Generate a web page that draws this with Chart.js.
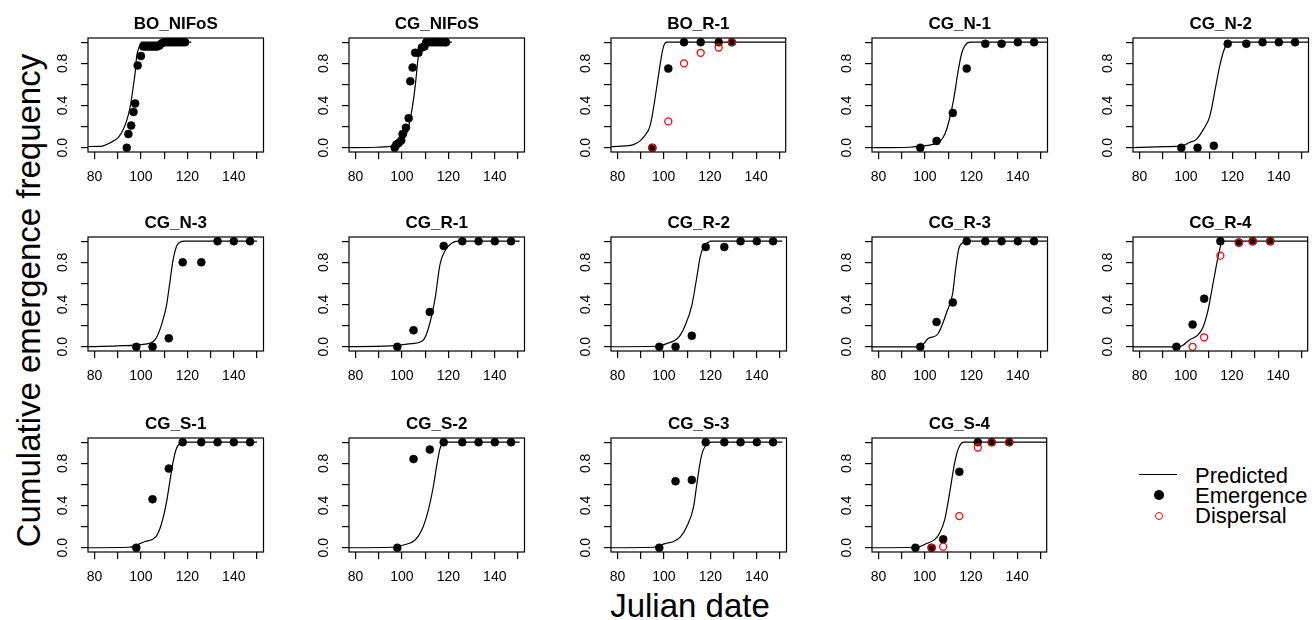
<!DOCTYPE html>
<html lang="en">
<head>
<meta charset="UTF-8" />
<title>Cumulative emergence frequency by Julian date</title>
<script src="https://cdn.jsdelivr.net/npm/chart.js"></script>
<style>
  body { margin: 0; width: 1316px; height: 620px; overflow: hidden; background: #fff; position: relative;
         font-family: 'Liberation Sans', Arial, sans-serif; color: #000; }
  .panel { position: absolute; width: 240px; height: 188px; }
  .axis-title { position: absolute; font-size: 33px; line-height: 33px; white-space: nowrap; text-align: center; }
  #xtitle { left: 540px; width: 300px; top: 589px; }
  #ytitle { left: -272px; width: 600px; top: 283.5px; transform: rotate(-90deg); }
  .lg-text { position: absolute; left: 1195px; font-size: 22px; line-height: 22px; white-space: nowrap; }
  .lg-line { position: absolute; left: 1139px; top: 474.4px; width: 38px; border-top: 1.3px solid #000; }
  .lg-dot { position: absolute; left: 1154px; top: 490px; width: 10px; height: 10px; border-radius: 50%; background: #000; }
  .lg-ring { position: absolute; left: 1155px; top: 511.7px; width: 8px; height: 8px; box-sizing: border-box;
             border-radius: 50%; border: 1.3px solid #ff0000; }
</style>
</head>
<body>
  <div class="axis-title" id="ytitle">Cumulative emergence frequency</div>
  <div class="axis-title" id="xtitle">Julian date</div>

  <div class="lg-line"></div>
  <div class="lg-dot"></div>
  <div class="lg-ring"></div>
  <div class="lg-text" style="top:464.7px">Predicted</div>
  <div class="lg-text" style="top:484.7px">Emergence</div>
  <div class="lg-text" style="top:504.7px">Dispersal</div>

<script>
// panels, left to right, top to bottom
const panelNames = ['BO_NIFoS', 'CG_NIFoS', 'BO_R-1', 'CG_N-1', 'CG_N-2',
                    'CG_N-3', 'CG_R-1', 'CG_R-2', 'CG_R-3', 'CG_R-4',
                    'CG_S-1', 'CG_S-2', 'CG_S-3', 'CG_S-4'];

const xTicks = [80, 90, 100, 110, 120, 130, 140, 150];
const xLabels = [80, 100, 120, 140];
const yTicks = [0, 0.2, 0.4, 0.6, 0.8, 1];
const yLabels = [0, 0.4, 0.8];

// observed emergence (black dots)
const emergenceX = [
  [93.9, 94.6, 95.8, 96.8, 97.5, 98.6, 100, 101, 102, 103, 104, 105, 106, 107, 108, 109, 110, 111, 112, 113, 114, 115, 116, 117, 118, 119],
  [96.9, 97.6, 98.6, 99.7, 100.3, 101.7, 102.9, 103.6, 104.6, 105.7, 107.1, 108.6, 109.7, 110.5, 111.5, 112.5, 113.5, 114.5, 115.5, 116.5, 117.5, 118.5, 119],
  [95.1, 102, 108.8, 116, 123.8, 129.5],
  [98, 105, 112, 118, 126, 133, 140, 147],
  [98, 105, 112, 118, 126, 133, 140, 147],
  [98, 105, 112, 118, 126, 133, 140, 147],
  [98, 105, 112, 118, 126, 133, 140, 147],
  [98, 105, 112, 118, 126, 133, 140, 147],
  [98, 105, 112, 118, 126, 133, 140, 147],
  [96, 103, 108, 115, 123, 129, 136.6],
  [98, 105, 112, 118, 126, 133, 140, 147],
  [98, 105, 112, 118, 126, 133, 140, 147],
  [98, 105, 112, 118, 126, 133, 140, 147],
  [96, 103, 108, 115, 123, 129, 136.6]
];
const emergenceY = [
  [0, 0.13, 0.21, 0.34, 0.42, 0.78, 0.87, 0.96, 0.96, 0.96, 0.96, 0.96, 0.96, 0.96, 0.97, 0.99, 1, 1, 1, 1, 1, 1, 1, 1, 1, 1],
  [0, 0.03, 0.045, 0.07, 0.13, 0.19, 0.28, 0.63, 0.76, 0.9, 0.9, 0.95, 0.96, 1, 1, 1, 1, 1, 1, 1, 1, 1, 1],
  [0, 0.75, 1, 1, 1, 1],
  [0, 0.065, 0.33, 0.75, 0.985, 0.985, 1, 1],
  [0, 0, 0.02, 0.985, 0.985, 1, 1, 1],
  [0, 0, 0.08, 0.8, 0.8, 1, 1, 1],
  [0, 0.156, 0.33, 0.955, 1, 1, 1, 1],
  [0, 0, 0.104, 0.945, 0.945, 1, 1, 1],
  [0, 0.235, 0.42, 1, 1, 1, 1, 1],
  [0, 0.21, 0.456, 1, 0.987, 1, 1],
  [0, 0.46, 0.75, 1, 1, 1, 1, 1],
  [0, 0.84, 0.93, 1, 1, 1, 1, 1],
  [0, 0.63, 0.643, 1, 1, 1, 1, 1],
  [0, 0, 0.08, 0.72, 1, 1, 1]
];

// observed dispersal (red rings), only some panels
const dispersalX = [null, null, [95.1, 102, 108.8, 116, 123.8, 129.5], null, null,
  null, null, null, null, [103, 108, 115, 123, 129, 136.6],
  null, null, null, [103, 108, 115, 123, 129, 136.6]];
const dispersalY = [null, null, [0, 0.25, 0.8, 0.9, 0.95, 1], null, null,
  null, null, null, null, [0, 0.09, 0.863, 0.987, 1, 1],
  null, null, null, [0, 0.01, 0.3, 0.95, 1, 1]];

// predicted curve
const predictedX = [
  [75, 82.6, 86.1, 88.5, 90.4, 92.5, 93.9, 95.4, 96.5, 97.5, 98.2, 99.2, 100.3, 121.7],
  [75, 89, 97, 98.6, 100.5, 102, 104.3, 105.7, 107.1, 108.6, 110, 121.5],
  [75, 85, 88, 90, 92, 94, 95, 96.2, 97.3, 98.4, 99.3, 100.1, 101.2, 155],
  [75, 93.5, 98, 103, 106.5, 108.7, 110.1, 112.3, 114.4, 115.9, 117.3, 119.5, 155],
  [75, 91, 98.5, 101.5, 104.5, 107.4, 110.3, 113, 114.6, 116, 117.5, 118.5, 155],
  [75, 90, 101.8, 105.3, 107, 108.9, 111, 112.4, 113.9, 115.3, 116.7, 118.8, 150],
  [75, 95, 104.3, 109.3, 112.1, 114.3, 116.4, 118.6, 121.4, 124.3, 150.7],
  [75, 97, 101.2, 106.3, 109.1, 112, 114.1, 115.6, 117, 119.2, 120, 151],
  [75, 97.9, 99.5, 101.5, 105.1, 107.3, 109.4, 111.9, 113.3, 114.6, 116.6, 118, 155],
  [75, 96, 98.5, 101.6, 105.2, 107.4, 109.5, 111, 113.1, 114.3, 115.3, 116, 155],
  [75, 95, 101.8, 106.3, 108.9, 111, 112.4, 113.9, 115.3, 116.7, 117.4, 150],
  [75, 96, 100.7, 105.7, 108.6, 111.4, 113.6, 115, 116.4, 117.9, 118.6, 150.7],
  [75, 95.5, 100.5, 104.1, 107, 109.8, 112.7, 114.1, 115.6, 117, 119.2, 120.6, 151],
  [75, 96.5, 100.8, 104.4, 106.5, 108.7, 110.8, 113, 114.4, 115.9, 117.3, 155]
];
const predictedY = [
  [0.012, 0.013, 0.04, 0.07, 0.1, 0.18, 0.26, 0.39, 0.55, 0.71, 0.87, 0.95, 1, 1],
  [0, 0.005, 0.02, 0.04, 0.08, 0.13, 0.36, 0.58, 0.87, 0.97, 1, 1],
  [0.01, 0.02, 0.04, 0.07, 0.12, 0.2, 0.3, 0.46, 0.62, 0.78, 0.9, 0.97, 1, 1],
  [0, 0.005, 0.015, 0.03, 0.06, 0.135, 0.23, 0.45, 0.74, 0.9, 0.97, 1, 1],
  [0, 0.01, 0.02, 0.05, 0.08, 0.17, 0.3, 0.6, 0.78, 0.9, 0.98, 1, 1],
  [0, 0.008, 0.025, 0.05, 0.1, 0.21, 0.39, 0.6, 0.83, 0.95, 0.99, 1, 1],
  [0, 0.008, 0.03, 0.065, 0.23, 0.46, 0.78, 0.91, 0.98, 1, 1],
  [0, 0.005, 0.03, 0.09, 0.2, 0.39, 0.65, 0.85, 0.945, 0.99, 1, 1],
  [0, 0, 0.03, 0.08, 0.11, 0.2, 0.33, 0.5, 0.75, 0.93, 0.99, 1, 1],
  [0, 0, 0.01, 0.065, 0.11, 0.18, 0.33, 0.5, 0.75, 0.88, 0.97, 1, 1],
  [0, 0.005, 0.06, 0.1, 0.23, 0.43, 0.62, 0.82, 0.94, 0.99, 1, 1],
  [0, 0.005, 0.026, 0.074, 0.17, 0.36, 0.59, 0.78, 0.94, 0.99, 1, 1],
  [0, 0.005, 0.04, 0.06, 0.1, 0.2, 0.38, 0.59, 0.81, 0.93, 0.99, 1, 1],
  [0, 0.005, 0.04, 0.08, 0.14, 0.27, 0.52, 0.81, 0.93, 0.99, 1, 1]
];

// plot box positions (left edge per column, top edge per row)
const colLeft = [88, 349, 611, 872, 1133];
const rowTop = [38, 237, 438];

Chart.defaults.font.family = "'Liberation Sans', Arial, sans-serif";
Chart.defaults.color = '#000';

const pts = (xs, ys) => xs.map((x, k) => ({ x: x, y: ys[k] }));

// R-style box around the plot region
const boxPlugin = {
  id: 'box',
  afterDraw(chart) {
    const { ctx, chartArea: a } = chart;
    ctx.save();
    ctx.strokeStyle = '#000';
    ctx.lineWidth = 1.2;
    ctx.strokeRect(a.left, a.top, a.right - a.left, a.bottom - a.top);
    ctx.restore();
  }
};

panelNames.forEach((name, i) => {
  const div = document.createElement('div');
  div.className = 'panel';
  div.style.left = (colLeft[i % 5] - 60) + 'px';
  div.style.top = (rowTop[Math.floor(i / 5)] - 34) + 'px';
  const cv = document.createElement('canvas');
  cv.width = 240;
  cv.height = 188;
  div.appendChild(cv);
  document.body.appendChild(div);

  const datasets = [{
    label: 'Predicted',
    data: pts(predictedX[i], predictedY[i]),
    showLine: true,
    borderColor: '#000',
    borderWidth: 1.2,
    cubicInterpolationMode: 'monotone',
    pointRadius: 0,
    order: 3
  }, {
    label: 'Emergence',
    data: pts(emergenceX[i], emergenceY[i]),
    pointRadius: 4,
    pointBackgroundColor: '#000',
    pointBorderColor: '#000',
    pointBorderWidth: 0.5,
    order: 2
  }];
  if (dispersalX[i]) {
    datasets.push({
      label: 'Dispersal',
      data: pts(dispersalX[i], dispersalY[i]),
      pointRadius: 3.5,
      pointBackgroundColor: 'rgba(0,0,0,0)',
      pointBorderColor: '#ff0000',
      pointBorderWidth: 1.3,
      order: 1
    });
  }

  new Chart(cv, {
    type: 'scatter',
    data: { datasets: datasets },
    plugins: [boxPlugin],
    options: {
      responsive: false,
      animation: false,
      events: [],
      layout: { padding: { left: 0, right: 4, top: 0, bottom: 0 } },
      plugins: {
        legend: { display: false },
        tooltip: { enabled: false },
        title: {
          display: true,
          text: name,
          fullSize: false,
          color: '#000',
          font: { size: 17, weight: 'bold', lineHeight: '20px' },
          padding: { top: 10, bottom: 4 }
        }
      },
      scales: {
        x: {
          type: 'linear',
          min: 77.2,
          max: 152.8,
          afterBuildTicks: s => { s.ticks = xTicks.map(v => ({ value: v })); },
          afterFit: s => { s.height = 40; },
          grid: { drawOnChartArea: false, drawTicks: true, tickLength: 7, color: '#000', lineWidth: 1.2 },
          border: { display: false },
          ticks: {
            autoSkip: false, minRotation: 0, maxRotation: 0, padding: 10,
            color: '#000', font: { size: 14 },
            callback: v => xLabels.includes(v) ? String(v) : ''
          }
        },
        y: {
          type: 'linear',
          min: -0.04,
          max: 1.04,
          afterBuildTicks: s => { s.ticks = yTicks.map(v => ({ value: v })); },
          afterFit: s => { s.width = 60; },
          grid: { drawOnChartArea: false, drawTicks: true, tickLength: 7, color: '#000', lineWidth: 1.2 },
          border: { display: false },
          ticks: {
            autoSkip: false, minRotation: 90, maxRotation: 90, crossAlign: 'center', padding: 8,
            color: '#000', font: { size: 14 },
            callback: v => yLabels.includes(v) ? v.toFixed(1) : ''
          }
        }
      }
    }
  });
});
</script>
</body>
</html>
